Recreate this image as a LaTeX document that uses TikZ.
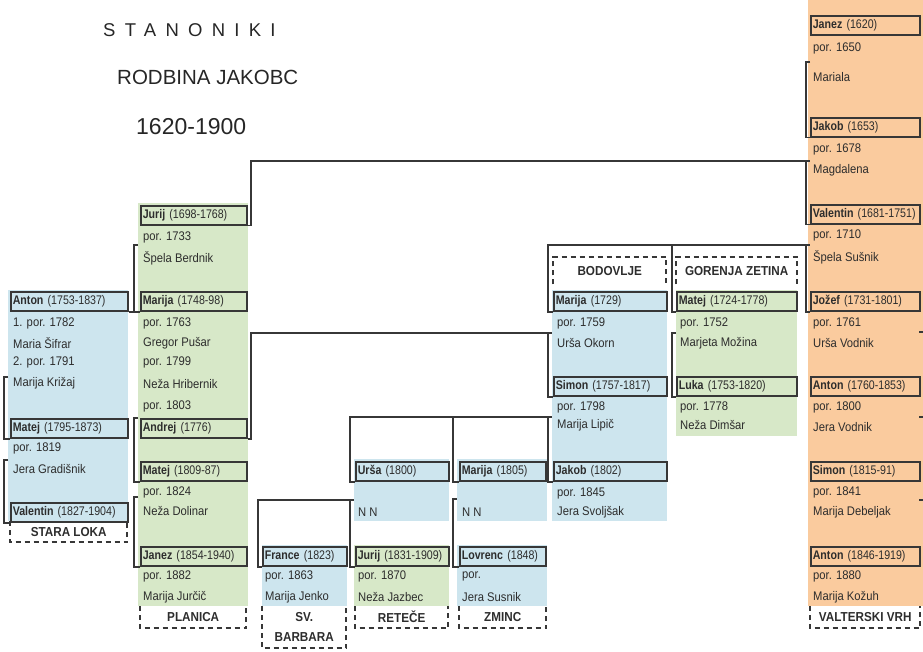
\documentclass[tikz,border=0pt]{standalone}
\usepackage{fontspec}
\setmainfont{Liberation Sans}
\newfontfamily\nf[FakeStretch=0.9]{Liberation Sans}
\newfontfamily\nb[FakeStretch=0.85]{Liberation Sans}
\definecolor{bgblue}{RGB}{205,229,238}
\definecolor{bggreen}{RGB}{215,232,200}
\definecolor{bgorange}{RGB}{250,203,158}
\definecolor{linec}{RGB}{55,55,55}
\definecolor{txtc}{RGB}{45,45,45}
\tikzset{
  conn/.style={draw=linec, line width=1.8pt},
  pbox/.style={draw=linec, line width=1.6pt, anchor=north west, inner xsep=2pt, inner ysep=0pt,
    minimum height=19pt, text width=#1, align=left, text=txtc,
    font=\nb\fontsize{12.5}{14}\selectfont},
  txt/.style={anchor=west, inner sep=0pt, text=txtc, font=\nf\fontsize{12.5}{14}\selectfont},
  lbl/.style={anchor=north west, inner sep=0pt, align=center, text=txtc,
    font=\nf\bfseries\fontsize{13}{20}\selectfont},
  lbldash/.style={draw=linec, line width=2pt, dash pattern=on 5pt off 4pt},
  ttl/.style={anchor=west, inner sep=0pt, text=black!85}
}
\begin{document}
\begin{tikzpicture}[x=1pt,y=-1pt]
\useasboundingbox (0,0) rectangle (923,652);
% backgrounds
\fill[bgorange] (808,0) rectangle (923,606);
\fill[bgblue] (8,290) rectangle (128,521);
\fill[bggreen] (138,203) rectangle (248,606);
\fill[bgblue] (552,290) rectangle (667,521);
\fill[bggreen] (676,290) rectangle (797,436);
\fill[bgblue] (354,459) rectangle (449,521);
\fill[bggreen] (354,545) rectangle (449,606);
\fill[bgblue] (457,459) rectangle (547,521);
\fill[bgblue] (457,545) rectangle (547,606);
\fill[bgblue] (262,545) rectangle (347,606);

% titles
\node[ttl, font=\fontsize{18.5}{20}\selectfont\addfontfeature{LetterSpace=50}] (t1) at (103,30) {STANONIKI};
\node[ttl, font=\fontsize{20.5}{22}\selectfont] (t2) at (117,77) {RODBINA JAKOBC};
\node[ttl, font=\fontsize{23}{25}\selectfont] (t3) at (136,127) {1620-1900};

% Stara Loka
\node[pbox=113pt] (antonSL) at (10,291) {\textbf{Anton} (1753-1837)};
\node[txt] (sl1) at (13,323) {1. por. 1782};
\node[txt] (sl2) at (13,343) {Maria Šifrar};
\node[txt] (sl3) at (13,362) {2. por. 1791};
\node[txt] (sl4) at (13,383) {Marija Križaj};
\node[pbox=113pt] (matejSL) at (10,418) {\textbf{Matej} (1795-1873)};
\node[txt] (sl5) at (13,448) {por. 1819};
\node[txt] (sl6) at (13,469) {Jera Gradišnik};
\node[pbox=113pt] (valentinSL) at (10,502) {\textbf{Valentin} (1827-1904)};
\node[lbl, minimum width=117pt, minimum height=21pt] (lSL) at (10,521) {STARA LOKA};

% Planica
\node[pbox=102pt] (jurijPL) at (140,205) {\textbf{Jurij} (1698-1768)};
\node[txt] (pl1) at (143,237) {por. 1733};
\node[txt] (pl2) at (143,258) {Špela Berdnik};
\node[pbox=102pt] (marijaPL) at (140,291) {\textbf{Marija} (1748-98)};
\node[txt] (pl3) at (143,323) {por. 1763};
\node[txt] (pl4) at (143,343) {Gregor Pušar};
\node[txt] (pl5) at (143,362) {por. 1799};
\node[txt] (pl6) at (143,384) {Neža Hribernik};
\node[txt] (pl7) at (143,406) {por. 1803};
\node[pbox=102pt] (andrej) at (140,418) {\textbf{Andrej} (1776)};
\node[pbox=102pt] (matejPL) at (140,461) {\textbf{Matej} (1809-87)};
\node[txt] (pl8) at (143,492) {por. 1824};
\node[txt] (pl9) at (143,511) {Neža Dolinar};
\node[pbox=102pt] (janez) at (140,546) {\textbf{Janez} (1854-1940)};
\node[txt] (pl10) at (143,576) {por. 1882};
\node[txt] (pl11) at (143,597) {Marija Jurčič};
\node[lbl, minimum width=106pt, minimum height=22pt] (lPL) at (140,606) {PLANICA};

% Sv. Barbara
\node[pbox=80pt] (france) at (262,546) {\textbf{France} (1823)};
\node[txt] (sb1) at (265,576) {por. 1863};
\node[txt] (sb2) at (265,597) {Marija Jenko};
\node[lbl, minimum width=84pt, minimum height=42pt] (lSB) at (262,606) {SV.\\BARBARA};

% Retece
\node[pbox=89pt] (ursa) at (355,461) {\textbf{Urša} (1800)};
\node[txt] (re1) at (358,512) {N N};
\node[pbox=89pt] (jurijRE) at (355,546) {\textbf{Jurij} (1831-1909)};
\node[txt] (re2) at (358,576) {por. 1870};
\node[txt] (re3) at (358,597) {Neža Jazbec};
\node[lbl, minimum width=93pt, minimum height=22pt] (lRE) at (355,606) {RETEČE};

% Zminc
\node[pbox=82pt] (marijaZM) at (459,461) {\textbf{Marija} (1805)};
\node[txt] (zm1) at (462,512) {N N};
\node[pbox=82pt] (lovrenc) at (459,546) {\textbf{Lovrenc} (1848)};
\node[txt] (zm2) at (462,576) {por.};
\node[txt] (zm3) at (462,597) {Jera Susnik};
\node[lbl, minimum width=87pt, minimum height=22pt] (lZM) at (459,606) {ZMINC};

% Bodovlje
\node[lbl, minimum width=113pt, minimum height=27pt] (lBO) at (553,257) {BODOVLJE};
\node[pbox=109pt] (marijaBO) at (553,291) {\textbf{Marija} (1729)};
\node[txt] (bo1) at (557,323) {por. 1759};
\node[txt] (bo2) at (557,343) {Urša Okorn};
\node[pbox=109pt] (simonBO) at (553,376) {\textbf{Simon} (1757-1817)};
\node[txt] (bo3) at (557,407) {por. 1798};
\node[txt] (bo4) at (557,425) {Marija Lipič};
\node[pbox=109pt] (jakobBO) at (553,461) {\textbf{Jakob} (1802)};
\node[txt] (bo5) at (557,493) {por. 1845};
\node[txt] (bo6) at (557,512) {Jera Svoljšak};

% Gorenja Zetina
\node[lbl, minimum width=121pt, minimum height=27pt] (lGZ) at (676,257) {GORENJA ZETINA};
\node[pbox=116pt] (matejGZ) at (676,291) {\textbf{Matej} (1724-1778)};
\node[txt] (gz1) at (680,323) {por. 1752};
\node[txt] (gz2) at (680,343) {Marjeta Možina};
\node[pbox=116pt] (luka) at (676,376) {\textbf{Luka} (1753-1820)};
\node[txt] (gz3) at (680,407) {por. 1778};
\node[txt] (gz4) at (680,425) {Neža Dimšar};

% Valterski Vrh
\node[pbox=105pt] (janezVV) at (810,15) {\textbf{Janez} (1620)};
\node[txt] (vv1) at (813,48) {por. 1650};
\node[txt] (vv2) at (813,77) {Mariala};
\node[pbox=105pt] (jakobVV) at (810,117) {\textbf{Jakob} (1653)};
\node[txt] (vv3) at (813,149) {por. 1678};
\node[txt] (vv4) at (813,170) {Magdalena};
\node[pbox=105pt] (valentinVV) at (810,204) {\textbf{Valentin} (1681-1751)};
\node[txt] (vv5) at (813,235) {por. 1710};
\node[txt] (vv6) at (813,257) {Špela Sušnik};
\node[pbox=105pt] (jozef) at (810,291) {\textbf{Jožef} (1731-1801)};
\node[txt] (vv7) at (813,323) {por. 1761};
\node[txt] (vv8) at (813,343) {Urša Vodnik};
\node[pbox=105pt] (antonVV) at (810,376) {\textbf{Anton} (1760-1853)};
\node[txt] (vv9) at (813,407) {por. 1800};
\node[txt] (vv10) at (813,427) {Jera Vodnik};
\node[pbox=105pt] (simonVV) at (810,461) {\textbf{Simon} (1815-91)};
\node[txt] (vv11) at (813,492) {por. 1841};
\node[txt] (vv12) at (813,512) {Marija Debeljak};
\node[pbox=105pt] (antonVV2) at (810,546) {\textbf{Anton} (1846-1919)};
\node[txt] (vv13) at (813,576) {por. 1880};
\node[txt] (vv14) at (813,597) {Marija Kožuh};
\node[lbl, minimum width=110pt, minimum height=22pt] (lVV) at (810,606) {VALTERSKI VRH};

% dashed label frames
\foreach \n in {lSL,lPL,lSB,lRE,lZM,lVV}
  \draw[lbldash] (\n.north west) -- (\n.south west) -- (\n.south east) -- (\n.north east);
\foreach \n in {lBO,lGZ}
  \draw[lbldash] (\n.south west) -- (\n.north west) -- (\n.north east) -- (\n.south east);

% connector coordinates
\coordinate (cA) at (251,161);
\coordinate (cB) at (806,161);
\coordinate (cC) at (548,245);
\coordinate (cD) at (806,245);
\coordinate (cE) at (672,245);
\coordinate (cF) at (251,333);
\coordinate (cG) at (548,333);
\coordinate (cH) at (350,417);
\coordinate (cI) at (548,417);
\coordinate (cJ) at (453,417);
\coordinate (cK) at (258,500);
\coordinate (cL) at (350,500);
\coordinate (cM) at (453,499);
\coordinate (cN) at (134,245);
\coordinate (cO) at (134,418);
\coordinate (cP) at (134,497);
\coordinate (cQ) at (4,377);
\coordinate (cR) at (4,460);
\coordinate (cS) at (672,333);
\coordinate (cV) at (806,62);
\coordinate (cT1) at (919,332);
\coordinate (cT2) at (919,417);
\coordinate (cT3) at (919,500);

% connectors
\draw[conn] (jurijPL.south east) -| (cA) -- (cB) |- (valentinVV.south west);
\draw[conn] (cB) -- ++(4,0);
\draw[conn] (marijaBO.south west) -| (cC) -- (cD) |- (jozef.south west);
\draw[conn] (cD) -- ++(4,0);
\draw[conn] (cE) |- (matejGZ.south west);
\draw[conn] (andrej.south east) -| (cF) -- (cG) |- (simonBO.south west);
\draw[conn] (cG) -- ++(4,0);
\draw[conn] (ursa.south west) -| (cH) -- (cI) |- (jakobBO.south west);
\draw[conn] (cI) -- ++(4,0);
\draw[conn] (cJ) |- (marijaZM.south west);
\draw[conn] (france.south west) -| (cK) -- (cL) |- (jurijRE.south west);
\draw[conn] (cL) -- ++(4,0);
\draw[conn] ([xshift=4pt]cM) -- (cM) |- (lovrenc.south west);
\draw[conn] ([xshift=4pt]cN) -- (cN) |- (marijaPL.south west);
\draw[conn] (antonSL.south east) -- (antonSL.south east -| cN);
\draw[conn] ([xshift=4pt]cO) -- (cO) |- (matejPL.south west);
\draw[conn] ([xshift=4pt]cP) -- (cP) |- (janez.south west);
\draw[conn] ([xshift=4pt]cQ) -- (cQ) |- (matejSL.south west);
\draw[conn] ([xshift=4pt]cR) -- (cR) |- (valentinSL.south west);
\draw[conn] ([xshift=4pt]cS) -- (cS) |- (luka.south west);
\draw[conn] ([xshift=4pt]cV) -- (cV) |- (jakobVV.south west);
\draw[conn] (cT1) -- ++(4,0);
\draw[conn] (cT2) -- ++(4,0);
\draw[conn] (cT3) -- ++(4,0);
\end{tikzpicture}
\end{document}
